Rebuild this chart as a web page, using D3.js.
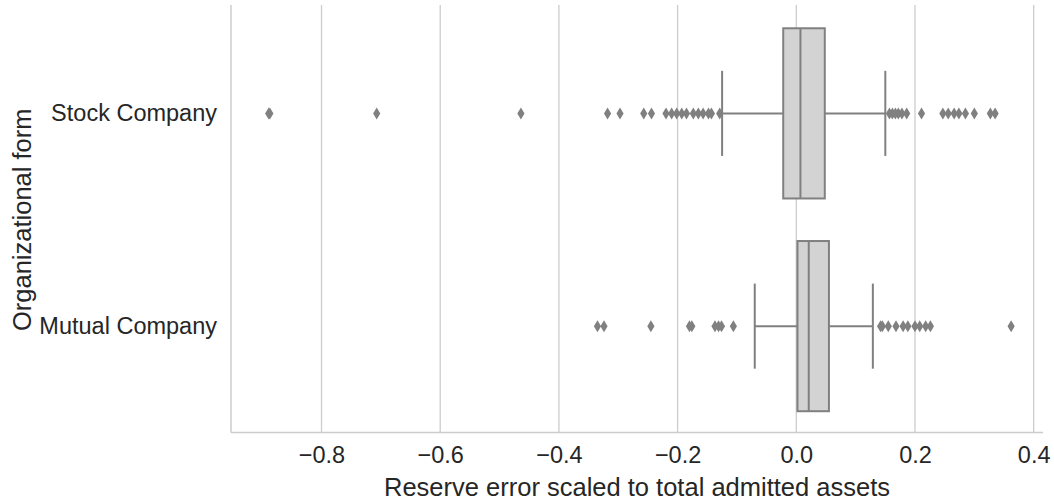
<!DOCTYPE html>
<html>
<head>
<meta charset="utf-8">
<script src="https://cdn.jsdelivr.net/npm/d3@7"></script>
<style>
  body { margin: 0; background: #fff; }
  text { font-family: "Liberation Sans", Arial, sans-serif; fill: #262626; }
</style>
</head>
<body>
<svg id="chart" width="1054" height="502"></svg>
<script>
// categories and box stats
var categories = ["Stock Company", "Mutual Company"];
var q1 = [-0.022, 0.002];
var medians = [0.007, 0.021];
var q3 = [0.048, 0.055];
var whiskLo = [-0.125, -0.070];
var whiskHi = [0.150, 0.129];
var stockFliers = [-0.889, -0.887, -0.707, -0.464, -0.318, -0.297, -0.257, -0.244,
  -0.2195, -0.21, -0.2015, -0.193, -0.185, -0.1735, -0.165, -0.157, -0.148, -0.143, -0.129,
  0.157, 0.162, 0.167, 0.172, 0.178, 0.186, 0.211, 0.247, 0.256, 0.266, 0.274, 0.285, 0.300, 0.327, 0.335];
var mutualFliers = [-0.335, -0.324, -0.245, -0.180, -0.176, -0.137, -0.131, -0.126, -0.106,
  0.142, 0.145, 0.155, 0.168, 0.180, 0.188, 0.200, 0.208, 0.218, 0.226, 0.362];
var fliers = [stockFliers, mutualFliers];
var xTicks = [-0.8, -0.6, -0.4, -0.2, 0.0, 0.2, 0.4];

const svg = d3.select("#chart");
const plotLeft = 231, plotRight = 1043, plotTop = 7, plotBottom = 432.5;
const xScale = d3.scaleLinear().domain([-0.9525, 0.4157]).range([plotLeft, plotRight]);
const yScale = d3.scaleBand().domain(categories).range([plotTop, plotBottom]);
const boxW = yScale.bandwidth() * 0.8;
const grey = "#808080";

// grid
svg.append("g").selectAll("line").data(xTicks).enter().append("line")
  .attr("x1", d => xScale(d)).attr("x2", d => xScale(d))
  .attr("y1", plotTop - 2).attr("y2", plotBottom)
  .attr("stroke", "#cccccc").attr("stroke-width", 1.3);

// x axis
const xAxisG = svg.append("g").attr("transform", "translate(0," + plotBottom + ")");
xAxisG.call(d3.axisBottom(xScale).tickValues(xTicks).tickSize(0).tickPadding(14)
  .tickFormat(d => d3.format(".1f")(d).replace("-", "\u2212")));
xAxisG.select(".domain").remove();
xAxisG.attr("font-family", null).attr("font-size", null);
xAxisG.selectAll("text").style("font-size", "23.5px").attr("fill", "#262626");

// y axis
const yAxisG = svg.append("g").attr("transform", "translate(" + plotLeft + ",0)");
yAxisG.call(d3.axisLeft(yScale).tickSize(0).tickPadding(14));
yAxisG.select(".domain").remove();
yAxisG.attr("font-family", null).attr("font-size", null);
yAxisG.selectAll("text").style("font-size", "23.5px").attr("fill", "#262626");

// spines
svg.append("line").attr("x1", plotLeft).attr("x2", plotLeft).attr("y1", plotTop - 2).attr("y2", plotBottom)
  .attr("stroke", "#cccccc").attr("stroke-width", 1.5);
svg.append("line").attr("x1", plotLeft).attr("x2", plotRight).attr("y1", plotBottom).attr("y2", plotBottom)
  .attr("stroke", "#cccccc").attr("stroke-width", 1.5);

// boxes
categories.forEach(function(c, i) {
  const cy = yScale(c) + yScale.bandwidth() / 2;
  const g = svg.append("g");
  g.append("line").attr("x1", xScale(whiskLo[i])).attr("x2", xScale(q1[i]))
    .attr("y1", cy).attr("y2", cy).attr("stroke", grey).attr("stroke-width", 2);
  g.append("line").attr("x1", xScale(q3[i])).attr("x2", xScale(whiskHi[i]))
    .attr("y1", cy).attr("y2", cy).attr("stroke", grey).attr("stroke-width", 2);
  [whiskLo[i], whiskHi[i]].forEach(function(w) {
    g.append("line").attr("x1", xScale(w)).attr("x2", xScale(w))
      .attr("y1", cy - boxW / 4).attr("y2", cy + boxW / 4)
      .attr("stroke", grey).attr("stroke-width", 2);
  });
  g.append("rect").attr("x", xScale(q1[i])).attr("y", cy - boxW / 2)
    .attr("width", xScale(q3[i]) - xScale(q1[i])).attr("height", boxW)
    .attr("fill", "#d3d3d3").attr("stroke", grey).attr("stroke-width", 2);
  g.append("line").attr("x1", xScale(medians[i])).attr("x2", xScale(medians[i]))
    .attr("y1", cy - boxW / 2).attr("y2", cy + boxW / 2)
    .attr("stroke", grey).attr("stroke-width", 2);
  g.selectAll("path").data(fliers[i]).enter().append("path")
    .attr("d", "M0,-6L3.6,0L0,6L-3.6,0Z")
    .attr("transform", d => "translate(" + xScale(d) + "," + cy + ")")
    .attr("fill", grey);
});

// axis labels
svg.append("text").attr("x", (plotLeft + plotRight) / 2).attr("y", 496)
  .attr("text-anchor", "middle").style("font-size", "25.5px")
  .text("Reserve error scaled to total admitted assets");
svg.append("text").attr("transform", "translate(31," + (plotTop + plotBottom) / 2 + ") rotate(-90)")
  .attr("text-anchor", "middle").style("font-size", "25.5px")
  .text("Organizational form");
</script>
</body>
</html>
